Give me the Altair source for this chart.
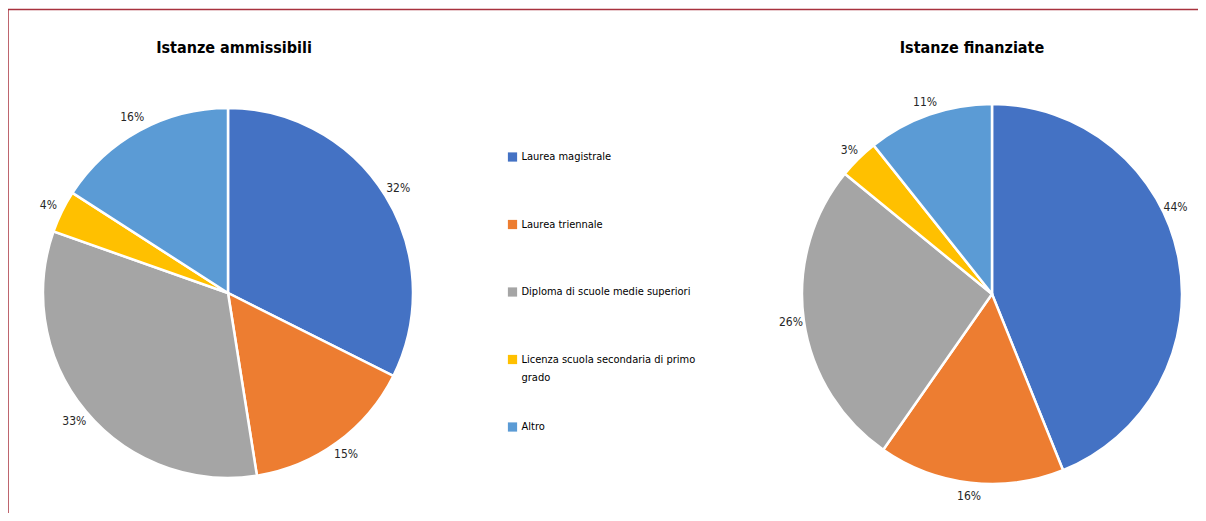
import altair as alt
import pandas as pd

categories = [
    "Laurea magistrale",
    "Laurea triennale",
    "Diploma di scuole medie superiori",
    "Licenza scuola secondaria di primo grado",
    "Altro",
]
legend_labels = [
    "Laurea magistrale",
    "Laurea triennale",
    "Diploma di scuole medie superiori",
    "Licenza scuola secondaria di primo\ngrado",
    "Altro",
]
ammissibili = [32.4, 15.1, 32.9, 3.7, 15.9]
finanziate = [43.9, 15.8, 26.2, 3.4, 10.7]
colors = ["#4472C4", "#ED7D31", "#A5A5A5", "#FFC000", "#5B9BD5"]
titles = ["Istanze ammissibili", "Istanze finanziate"]

FONT = "DejaVu Sans Condensed, Liberation Sans Narrow, Roboto"
W, H = 1190, 505


def pie_df(vals):
    return pd.DataFrame({
        "cat": categories,
        "idx": list(range(len(categories))),
        "value": vals,
        "label": [f"{round(v)}%" for v in vals],
    })


color = alt.Color("cat:N", scale=alt.Scale(domain=categories, range=colors), legend=None)


def pie(vals, cx, cy, r, lr, theta_shift=None):
    base = alt.Chart(pie_df(vals)).encode(
        theta=alt.Theta("value:Q", stack=True),
        order=alt.Order("idx:Q"),
    )
    arcs = base.mark_arc(radius=r, stroke="white", strokeWidth=2.5).encode(
        color=color, x=alt.value(cx), y=alt.value(cy)
    )
    tkw = dict(radius=lr, font=FONT, fontSize=12, color="#262626")
    if theta_shift is not None:
        tkw["thetaOffset"] = alt.ExprRef(expr=theta_shift)
    labels = base.mark_text(**tkw).encode(
        text="label:N", x=alt.value(cx), y=alt.value(cy)
    )
    return alt.layer(arcs, labels)


left = pie(ammissibili, 220, 285, 185, 200)
# the largest slice's label is nudged up so it stays inside the frame (as in the original)
right = pie(finanziate, 984, 286, 190, 203, theta_shift="datum.idx == 0 ? -0.25 : 0")

title_df = pd.DataFrame({"t": titles, "px": [226, 964]})
title_layer = alt.Chart(title_df).mark_text(
    font=FONT, fontSize=16, fontWeight="bold", color="#000000", baseline="middle"
).encode(
    text="t:N",
    x=alt.X("px:Q", scale=alt.Scale(domain=[0, W], range=[0, W]), axis=None),
    y=alt.value(40),
)

leg_df = pd.DataFrame({"cat": categories, "lab": legend_labels})
leg_y = alt.Y("cat:N", sort=categories, scale=alt.Scale(range=[149, 419], padding=0), axis=None)
leg_sq = alt.Chart(leg_df).mark_square(size=85, opacity=1).encode(
    x=alt.value(504.5), y=leg_y, color=color
)
leg_tx = alt.Chart(leg_df).mark_text(
    font=FONT, fontSize=11, align="left", baseline="top", dy=-6, lineBreak="\n",
    lineHeight=18, color="#000000"
).encode(x=alt.value(513.5), y=leg_y, text="lab:N")

frame_df = pd.DataFrame({"a": [0]})
frame_top = alt.Chart(frame_df).mark_rule(color="#A8323E", strokeWidth=1.5).encode(
    x=alt.value(0), x2=alt.value(W), y=alt.value(1.5)
)
frame_left = alt.Chart(frame_df).mark_rule(color="#A8323E", strokeWidth=1.5).encode(
    x=alt.value(0), y=alt.value(1.5), y2=alt.value(H)
)

chart = alt.layer(
    frame_top, frame_left, left, right, title_layer, leg_sq, leg_tx
).resolve_scale(theta="independent", y="independent", x="independent").properties(
    width=W, height=H, padding=0, autosize=alt.AutoSizeParams(type="none"),
    background="white",
).configure_view(stroke=None)

chart.save("out.html", embed_options={"renderer": "svg", "actions": False})
